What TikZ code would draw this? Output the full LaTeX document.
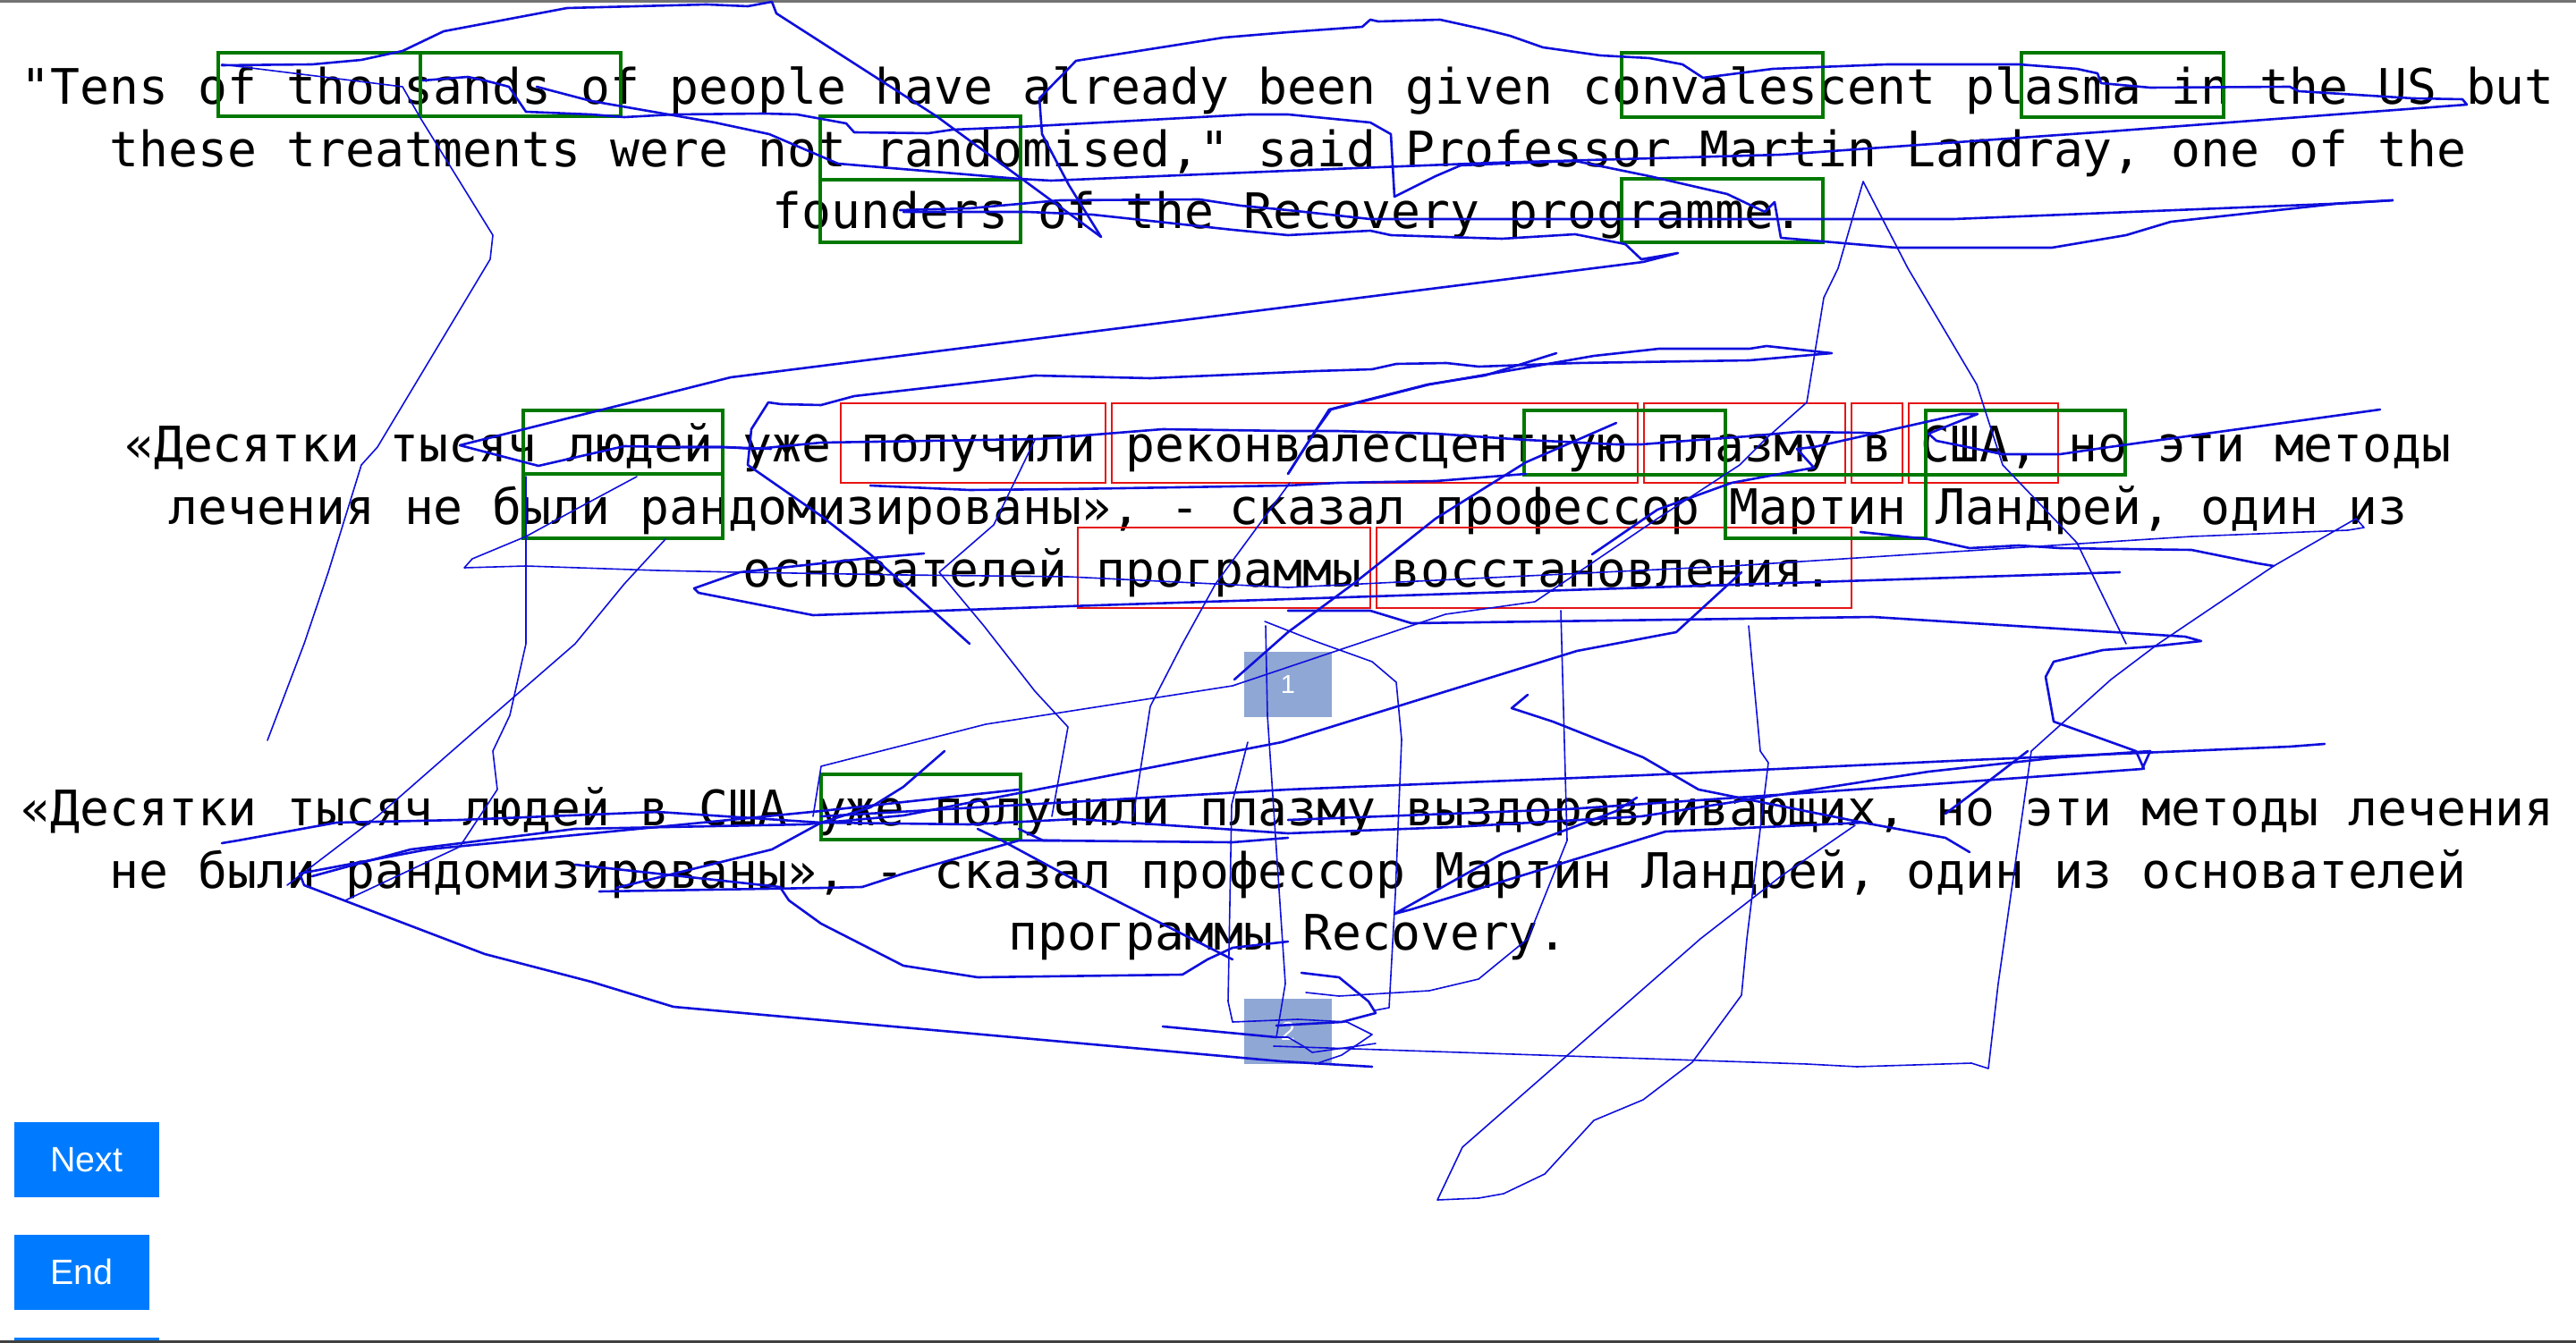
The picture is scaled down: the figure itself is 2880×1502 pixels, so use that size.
\documentclass[tikz,border=0pt]{standalone}
\usepackage{fontspec}
\setmonofont{DejaVu Sans Mono}
\newfontfamily\uifont{Liberation Sans}
\usetikzlibrary{positioning}

\definecolor{scribble}{RGB}{15,15,220}
\definecolor{hitgreen}{RGB}{0,120,0}
\definecolor{missred}{RGB}{230,20,20}
\definecolor{btnblue}{RGB}{0,123,255}
\definecolor{pagerblue}{RGB}{143,167,212}

\begin{document}
\begin{tikzpicture}[x=0.5pt, y=-0.5pt,
	sent/.style = {font=\ttfamily\fontsize{27.35pt}{32pt}\selectfont, anchor=base, inner sep=0pt},
	hit/.style = {draw=hitgreen, line width=2.4pt},
	miss/.style = {draw=missred, line width=1.4pt},
	ink/.style = {draw=scribble, line width=1.3pt, line join=round, line cap=round},
	faint/.style = {ink, line width=0.8pt},
	pager/.style = {fill=pagerblue, text=white, font=\uifont\fontsize{14.5pt}{16pt}\selectfont,
		minimum width=49pt, minimum height=36.5pt, inner sep=0pt},
	btn/.style = {fill=btnblue, text=white, font=\uifont\fontsize{19.7pt}{22pt}\selectfont,
		minimum height=42pt, inner sep=0pt}]
	\useasboundingbox (0,0) rectangle (2880,1502);
	\fill[white] (0,0) rectangle (2880,1502);
	\fill[black!55] (0,0) rectangle (2880,3);
	\fill[black!75] (0,1499) rectangle (2880,1502);
	\fill[btnblue] (16,1496) rectangle (178,1499);

	% source sentence
	\node (e1) [sent] at (1440,117) {"Tens of thousands of people have already been given convalescent plasma in the US but};
	\node (e2) [sent] at (1440,186.5) {these treatments were not randomised," said Professor Martin Landray, one of the};
	\node (e3) [sent] at (1440,256) {founders of the Recovery programme.};
	% first translation
	\node (r1) [sent] at (1440,517) {«Десятки тысяч людей уже получили реконвалесцентную плазму в США, но эти методы};
	\node (r2) [sent] at (1440,586.5) {лечения не были рандомизированы», - сказал профессор Мартин Ландрей, один из};
	\node (r3) [sent] at (1440,656) {основателей программы восстановления.};
	% second translation
	\node (s1) [sent] at (1440,923.5) {«Десятки тысяч людей в США уже получили плазму выздоравливающих, но эти методы лечения};
	\node (s2) [sent] at (1440,993) {не были рандомизированы», - сказал профессор Мартин Ландрей, один из основателей};
	\node (s3) [sent] at (1440,1062.5) {программы Recovery.};

	% marked spans
	\draw[hit] (244,59) rectangle (470,130);
	\draw[hit] (470,59) rectangle (694,130);
	\draw[hit] (1813,59) rectangle (2038,131);
	\draw[hit] (2260,59) rectangle (2486,131);
	\draw[hit] (917,130) rectangle (1141,201);
	\draw[hit] (917,201) rectangle (1141,271);
	\draw[hit] (1813,200) rectangle (2038,271);
	\draw[miss] (940,451) rectangle (1236,540);
	\draw[miss] (1243,451) rectangle (1831,540);
	\draw[miss] (1838,451) rectangle (2063,540);
	\draw[miss] (2070,451) rectangle (2127,540);
	\draw[miss] (2134,451) rectangle (2301,540);
	\draw[miss] (1205,590) rectangle (1532,680);
	\draw[miss] (1539,590) rectangle (2070,680);
	\draw[hit] (585,459) rectangle (808,530);
	\draw[hit] (585,530) rectangle (808,602);
	\draw[hit] (1704,459) rectangle (1929,531);
	\draw[hit] (1929,531) rectangle (2153,602);
	\draw[hit] (2153,459) rectangle (2376,531);
	\draw[hit] (918,866) rectangle (1141,939);

	\node (p1) [pager] at (1440,765.5) {1};
	\node (p2) [pager] at (1440,1153) {2};

	% pen strokes
	\draw[ink] plot coordinates {(248,73) (349,72) (404,67) (450,57) (496,35) (634,9) (790,5) (836,7) (863,2) (868,15) (1047,130) (1231,265)};
	\draw[faint] plot coordinates {(248,72) (450,97) (470,132) (551,263) (548,290) (422,500) (404,520) (367,640) (340,720) (299,828)};
	\draw[ink] plot coordinates {(473,90) (523,86) (542,90) (569,97) (588,125) (661,128) (698,131) (753,128) (854,127) (891,128) (946,138) (955,148) (1038,149) (1065,145) (1139,142) (1396,128) (1440,128) (1532,137) (1555,150) (1559,220) (1605,197) (1633,185) (1679,183) (1761,180) (1844,197) (1931,217) (1973,237) (1984,226) (1991,266) (2120,277) (2294,277) (2377,263) (2427,248) (2611,228) (2675,224)};
	\draw[ink] plot coordinates {(1231,265) (1195,207) (1165,150) (1162,110) (1203,68) (1368,42) (1440,36) (1523,30) (1532,22) (1541,24) (1610,22) (1660,33) (1688,40) (1725,53) (1789,62) (1844,65) (1881,72) (1904,87) (1982,77) (2110,72) (2257,72) (2322,77) (2345,82) (2349,93) (2404,98) (2560,97) (2570,102) (2698,110) (2753,111) (2758,117) (2358,147) (1991,173) (1670,182) (1440,191) (1175,202) (1139,200) (937,183) (860,150) (799,137) (661,113) (600,97)};
	\draw[ink] plot coordinates {(1006,235) (1084,233) (1185,224) (1341,223) (1387,230) (1440,235) (1532,245) (2184,245) (2606,228) (2675,224)};
	\draw[ink] plot coordinates {(1010,237) (1148,237) (1221,240) (1378,257) (1440,263) (1532,258) (1555,263) (1679,267) (1761,262) (1817,273) (1835,290) (1876,283) (1837,293) (817,422) (694,453) (514,498) (602,521) (698,499) (760,500) (808,500) (862,502)};
	\draw[ink] plot coordinates {(1084,720) (973,620) (918,577) (836,520) (840,480) (859,450) (873,452) (918,453) (955,443) (1157,420) (1286,423) (1470,415) (1534,413) (1561,407) (1617,406) (1653,410) (1763,406) (1956,403) (2048,395) (1975,387) (1956,390) (1855,390) (1782,398) (1598,430) (1488,458) (1470,483) (1440,530)};
	\draw[faint] plot coordinates {(909,913) (918,857) (1102,810) (1378,767) (1616,687) (1716,673) (1853,580) (1945,520) (1975,490) (2020,450) (2039,333) (2055,300) (2083,203) (2133,300) (2210,430) (2239,520) (2322,607) (2377,720)};
	\draw[ink] plot coordinates {(2661,458) (2358,500) (2303,508) (2239,508) (2165,493) (2156,485) (2211,463) (2193,463) (2028,500) (2009,502) (2028,523) (1936,540) (1853,570) (1780,620)};
	\draw[ink] plot coordinates {(762,500) (808,500) (845,502) (918,495) (1162,491) (1300,480) (1440,482) (1495,482) (1605,485) (1706,492) (1807,497) (1835,497) (1899,492) (1954,488) (2009,483) (2083,484) (2097,485)};
	\draw[ink] plot coordinates {(1807,473) (1706,517) (1605,580) (1513,653) (1440,707) (1380,760)};
	\draw[ink] plot coordinates {(1440,683) (1532,683) (1578,697) (2094,690) (2443,712) (2461,717) (2406,723) (2351,727) (2296,740) (2287,757) (2296,807) (2388,840) (2397,860)};
	\draw[faint] plot coordinates {(1424,1170) (2020,1190) (2076,1193) (2204,1189) (2223,1195) (2234,1100) (2271,840) (2360,760) (2413,720) (2542,633) (2634,580) (2643,590) (2625,593) (2450,600) (1936,633) (1440,657) (1194,645) (1010,643) (827,640) (735,638) (588,633) (519,635) (528,625) (588,600) (643,570) (712,533)};
	\draw[ink] plot coordinates {(973,543) (1084,548) (1194,547) (1440,543) (1495,540) (1605,538) (1706,530)};
	\draw[ink] plot coordinates {(2080,595) (2156,603) (2202,613) (2257,610) (2303,613) (2450,615) (2524,630) (2542,633)};
	\draw[ink] plot coordinates {(1033,619) (964,625) (827,640) (776,658) (781,663) (909,688) (1194,678) (2370,640)};
	\draw[faint] plot coordinates {(1414,695) (1470,717) (1534,740) (1561,763) (1567,827) (1560,1000) (1553,1127) (1537,1130)};
	\draw[ink] plot coordinates {(1947,640) (1874,707) (1763,728) (1433,830) (1139,887) (1010,912) (900,922) (643,927) (459,950) (349,980)};
	\draw[faint] plot coordinates {(1157,492) (1111,587) (1050,640) (1100,700) (1157,773) (1194,813) (1176,913)};
	\draw[faint] plot coordinates {(744,603) (698,653) (643,720) (551,800) (422,913) (321,990)};
	\draw[faint] plot coordinates {(1442,540) (1359,653) (1322,720) (1286,790) (1267,913)};
	\draw[faint] plot coordinates {(1745,683) (1752,940) (1708,1050) (1653,1095) (1598,1108) (1497,1114) (1460,1110)};
	\draw[ink] plot coordinates {(1708,777) (1690,792) (1736,807) (1837,847) (1899,883) (2083,920) (2175,937) (2202,953)};
	\draw[ink] plot coordinates {(2599,832) (2560,835) (2204,850) (1837,867) (1440,883) (918,913)};
	\draw[ink] plot coordinates {(248,943) (266,940) (376,920) (514,917) (735,908) (918,920) (1084,922) (1203,916) (1440,932) (1624,925) (1835,913) (2156,863) (2303,847) (2404,840) (2395,860) (2147,878) (1752,905) (1440,917)};
	\draw[ink] plot coordinates {(1830,892) (1807,907) (1679,955) (1559,1022) (1578,1017) (1862,930) (2083,920)};
	\draw[faint] plot coordinates {(2074,923) (1991,980) (1901,1050) (1635,1283) (1607,1342) (1653,1340) (1681,1335) (1727,1313) (1782,1253) (1837,1230) (1892,1188) (1947,1113) (1953,1050) (1977,853) (1968,840) (1955,700)};
	\draw[ink] plot coordinates {(1139,883) (918,907) (478,950) (335,977) (340,990) (542,1067) (661,1098) (753,1126) (1433,1187) (1534,1193)};
	\draw[ink] plot coordinates {(643,967) (872,992) (882,1007) (918,1033) (1010,1080) (1093,1093) (1322,1090) (1350,1073) (1378,1060) (1440,1053)};
	\draw[faint] plot coordinates {(1395,830) (1377,900) (1373,1120) (1378,1143) (1451,1140) (1506,1143) (1534,1157) (1500,1180) (1470,1190)};
	\draw[faint] plot coordinates {(1415,700) (1417,800) (1437,1100) (1427,1160) (1440,1160) (1457,1170) (1467,1177) (1517,1170) (1538,1167)};
	\draw[ink] plot coordinates {(1455,1088) (1497,1093) (1530,1120) (1538,1133) (1500,1143) (1427,1147)};
	\draw[ink] plot coordinates {(1300,1148) (1427,1160)};
	\draw[ink] plot coordinates {(1440,530) (1486,458) (1596,430) (1660,420) (1740,395)};
	\draw[faint] plot coordinates {(588,533) (588,720) (570,800) (551,840) (556,883) (514,947) (386,1007)};
	\draw[ink] plot coordinates {(670,997) (918,993) (964,992) (1010,977) (1139,940) (1185,940)};
	\draw[ink] plot coordinates {(689,993) (863,950) (918,920) (973,903) (1010,880) (1056,840)};
	\draw[ink] plot coordinates {(1093,927) (1120,940) (1194,980) (1378,1073)};
	\draw[ink] plot coordinates {(1139,927) (1166,940) (1378,942) (1440,937)};
	\draw[ink] plot coordinates {(2175,910) (2211,883) (2267,840)};

	% buttons
	\node (next) [btn, minimum width=81pt] at (97,1297) {Next};
	\node (end) [btn, minimum width=75.5pt] at (91.5,1422.5) {End};
\end{tikzpicture}
\end{document}
